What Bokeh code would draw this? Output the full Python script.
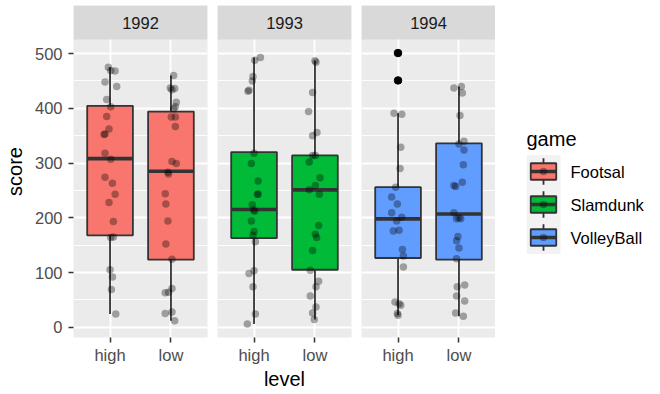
import numpy as np
from bokeh.plotting import figure
from bokeh.layouts import row
from bokeh.models import (FixedTicker, BoxAnnotation, Label, Range1d, FactorRange,
                          ColumnDataSource)
from bokeh.core.properties import value
from bokeh.embed import file_html
from bokeh.resources import INLINE

# ---------------- data ----------------
years = ["1992", "1993", "1994"]
levels = ["high", "low"]
games = ["Footsal", "Slamdunk", "VolleyBall"]
fills = ["#F8766D", "#00BA38", "#619CFF"]
legend_title = "game"

# box statistics per year, for [high, low]
whisk_lo = [[24, 12], [6, 14], [22, 20]]
box_q1 = [[168, 123.5], [163, 105], [126.5, 123.5]]
box_med = [[308, 285], [215, 251], [198, 207]]
box_q3 = [[404.5, 394], [320, 314], [256, 336]]
whisk_hi = [[475, 460], [493, 487], [391, 440]]
outlier_level = [[], [], ["high", "high"]]
outlier_score = [[], [], [501, 451]]

# jittered observations (score, horizontal jitter offset)
score_1992_high = [475, 469, 468, 448, 440, 416, 403, 385, 362, 353, 352, 318, 307, 274, 263, 243,
                   228, 193, 164, 165, 105, 92, 69, 24]
jit_1992_high = [-0.028, 0.011, 0.083, -0.083, 0.11, -0.055, 0.011, -0.055, -0.017, -0.083, -0.099,
                 -0.083, 0.011, -0.083, 0.039, 0.083, -0.017, 0.055, 0.011, 0.055, 0, 0.039, 0.022, 0.094]
score_1992_low = [460, 437, 436, 434, 411, 403, 399, 384, 384, 367, 303, 299, 283, 280, 244, 225,
                  194, 152, 124, 71, 63, 64, 28, 25, 12]
jit_1992_low = [0.044, -0.011, 0.061, 0.017, 0.088, 0.072, 0.044, 0.006, 0.072, 0.072, 0.017, 0.088,
                -0.05, -0.039, -0.094, -0.083, -0.05, -0.083, 0.017, 0.017, -0.094, -0.039, 0.017,
                -0.094, 0.061]
score_1993_high = [488, 493, 458, 450, 433, 431, 318, 299, 267, 243, 243, 224, 214, 212, 194, 175,
                   168, 156, 98, 103, 74, 24, 6]
jit_1993_high = [0.011, 0.105, -0.017, -0.028, -0.083, -0.099, 0, -0.044, 0.066, 0.055, 0.066, -0.028,
                 -0.006, 0.011, -0.044, 0, -0.017, 0.022, -0.083, 0, -0.017, 0.022, -0.11]
score_1993_low = [487, 484, 429, 394, 350, 356, 314, 314, 302, 273, 259, 251, 243, 186, 170, 164,
                  140, 104, 84, 74, 57, 37, 26, 14]
jit_1993_low = [0, 0.017, -0.039, -0.105, -0.039, 0.033, -0.039, 0.006, -0.094, 0.083, 0.006, -0.094,
                0.072, 0.061, 0.006, 0.028, -0.039, -0.077, 0.061, 0.017, -0.077, 0.017, -0.039, -0.011]
score_1994_high = [501, 451, 391, 389, 329, 290, 256, 238, 225, 209, 201, 194, 176, 177, 142, 130,
                   110, 46, 43, 40, 25, 22]
jit_1994_high = [-0.011, 0, -0.066, 0.061, 0.044, 0.033, -0.039, -0.105, -0.011, -0.105, 0.061,
                 -0.022, -0.077, 0.017, 0.072, 0.088, 0.088, -0.05, 0.017, 0.044, -0.011, 0]
score_1994_low = [437, 440, 428, 387, 335, 340, 324, 297, 265, 259, 257, 209, 200, 198, 198, 166,
                  158, 145, 125, 74, 77, 57, 48, 26, 20]
jit_1994_low = [-0.083, 0.039, 0.055, 0.017, 0, 0.083, 0.083, 0.072, 0.055, -0.083, -0.055, -0.083,
                0, -0.039, 0.028, -0.017, -0.039, 0, -0.039, -0.028, 0.094, -0.039, 0.094, -0.055, 0.072]

scores = {"1992": [score_1992_high, score_1992_low],
          "1993": [score_1993_high, score_1993_low],
          "1994": [score_1994_high, score_1994_low]}
jitters = {"1992": [jit_1992_high, jit_1992_low],
           "1993": [jit_1993_high, jit_1993_low],
           "1994": [jit_1994_high, jit_1994_low]}

y_ticks = [0, 100, 200, 300, 400, 500]
y_minor = [50, 150, 250, 350, 450]

# ---------------- style / layout ----------------
FONT = "Liberation Sans"
SMALL = "16.5px"
BIG = "20px"
PANEL_W = 134
GAP = 10
LEFT = 73
TOP = 5
STRIP_PX = 34
DATA_PX = 298
FRAME_H = STRIP_PX + DATA_PX
BOTTOM = 50
BOX_W = 0.75
EDGE = "#333333"
KEY_PX = 33
KEY_W = 34
LEG_W = 118
LABEL_GAP = 10

all_vals = sum([v for pair in scores.values() for v in pair], []) + sum(outlier_score, [])
vmin, vmax = min(all_vals), max(all_vals)
pad = 0.05 * (vmax - vmin)
y0, y1 = vmin - pad, vmax + pad
y_top = y1 + (y1 - y0) * STRIP_PX / DATA_PX
x0, x1 = 1 - 0.6, len(levels) + 0.6
pos = {lv: i + 1 for i, lv in enumerate(levels)}


def style_axis(ax):
    ax.axis_line_color = None
    ax.major_tick_out = 5
    ax.major_tick_in = 0
    ax.minor_tick_out = 0
    ax.minor_tick_in = 0
    ax.minor_tick_line_color = None
    ax.major_tick_line_color = EDGE
    ax.major_tick_line_width = 1.5
    ax.major_label_text_font = FONT
    ax.major_label_text_font_size = SMALL
    ax.major_label_text_color = "#4D4D4D"
    ax.axis_label_text_font = FONT
    ax.axis_label_text_font_size = BIG
    ax.axis_label_text_font_style = "normal"
    ax.axis_label_text_color = "#000000"


panels = []
for i, yr in enumerate(years):
    first = i == 0
    p = figure(frame_width=PANEL_W, frame_height=FRAME_H,
               x_range=Range1d(x0, x1), y_range=Range1d(y0, y_top),
               output_backend="svg", toolbar_location=None,
               min_border_left=LEFT if first else 0,
               min_border_right=GAP if i < len(years) - 1 else 0,
               min_border_top=TOP, min_border_bottom=BOTTOM)
    p.background_fill_color = "#EBEBEB"
    p.border_fill_color = "white"
    p.outline_line_color = None

    p.xaxis.ticker = FixedTicker(ticks=[pos[lv] for lv in levels])
    p.xaxis.major_label_overrides = {pos[lv]: lv for lv in levels}
    style_axis(p.xaxis[0])
    p.xaxis.major_label_standoff = 3
    if i == 1:
        p.xaxis.axis_label = "level"
        p.xaxis.axis_label_standoff = 1

    p.yaxis.ticker = FixedTicker(ticks=y_ticks, minor_ticks=y_minor)
    style_axis(p.yaxis[0])
    p.yaxis.major_label_standoff = 6
    if first:
        p.yaxis.axis_label = "score"
        p.yaxis.axis_label_standoff = 6
    else:
        p.yaxis.visible = False

    p.xgrid.ticker = FixedTicker(ticks=[pos[lv] for lv in levels])
    p.xgrid.grid_line_color = "white"
    p.xgrid.grid_line_width = 1.8
    p.ygrid.ticker = FixedTicker(ticks=y_ticks, minor_ticks=y_minor)
    p.ygrid.grid_line_color = "white"
    p.ygrid.grid_line_width = 1.8
    p.ygrid.minor_grid_line_color = "white"
    p.ygrid.minor_grid_line_width = 0.9

    xs = np.array([pos[lv] for lv in levels], dtype=float)
    src = ColumnDataSource(dict(x=xs, left=xs - BOX_W / 2, right=xs + BOX_W / 2,
                                lo=whisk_lo[i], q1=box_q1[i], med=box_med[i],
                                q3=box_q3[i], hi=whisk_hi[i]))
    p.segment(x0="x", y0="q3", x1="x", y1="hi", source=src, line_color=EDGE, line_width=1.8)
    p.segment(x0="x", y0="lo", x1="x", y1="q1", source=src, line_color=EDGE, line_width=1.8)
    p.quad(left="left", right="right", bottom="q1", top="q3", source=src,
           fill_color=fills[i], line_color=EDGE, line_width=1.8)
    p.segment(x0="left", y0="med", x1="right", y1="med", source=src,
              line_color=EDGE, line_width=3.6)
    if outlier_score[i]:
        p.scatter(x=[pos[lv] for lv in outlier_level[i]], y=outlier_score[i], size=7.5,
                  fill_color="black", line_color="black")
    for j, lv in enumerate(levels):
        p.scatter(x=pos[lv] + np.array(jitters[yr][j]), y=scores[yr][j], size=7.5,
                  fill_color="black", fill_alpha=0.33, line_color=None)

    # facet strip
    p.add_layout(BoxAnnotation(bottom=y1, fill_color="#D9D9D9", fill_alpha=1.0,
                               line_color=None))
    p.add_layout(Label(x=(x0 + x1) / 2, y=(y1 + y_top) / 2, text=yr, text_align="center",
                       text_baseline="middle", text_font=FONT, text_font_size=SMALL,
                       text_color="#1A1A1A"))
    panels.append(p)

# ---------------- legend (own figure, same frame height as the panels) ----------------
# x unit = one key width; y = one categorical row per key (title row + one empty row on top)
leg_rows = list(reversed(games)) + [legend_title, " "]
leg_pad = (FRAME_H / KEY_PX - len(leg_rows)) / 2
lg = figure(frame_width=LEG_W, frame_height=FRAME_H, x_range=Range1d(0, LEG_W / KEY_W),
            y_range=FactorRange(factors=leg_rows, range_padding=leg_pad,
                                range_padding_units="absolute"),
            output_backend="svg", toolbar_location=None,
            min_border_left=31, min_border_right=0, min_border_top=TOP,
            min_border_bottom=BOTTOM)
lg.background_fill_color = "white"
lg.border_fill_color = "white"
lg.outline_line_color = None
lg.xaxis.visible = False
lg.yaxis.visible = False
lg.xgrid.visible = False
lg.ygrid.visible = False

kx = 0.5
lsrc = ColumnDataSource(dict(y=games, fill=fills))
lg.rect(x=kx, y="y", width=1.0, height=1.0, source=lsrc, fill_color="#F2F2F2", line_color=None)
lg.rect(x=kx, y="y", width=1.8, width_units="screen", height=0.8, source=lsrc,
        fill_color=EDGE, line_color=None)
lg.rect(x=kx, y="y", width=BOX_W, height=0.5, source=lsrc, fill_color="fill",
        line_color=EDGE, line_width=1.8)
lg.rect(x=kx, y="y", width=BOX_W, height=3.6, height_units="screen", source=lsrc,
        fill_color=EDGE, line_color=None)
lg.scatter(x=kx, y="y", size=7.5, source=lsrc, fill_color="black", fill_alpha=0.33,
           line_color=None)
lg.text(x=1 + LABEL_GAP / KEY_W, y="y", text="y", source=lsrc, text_align="left",
        text_baseline="middle", text_font=value(FONT), text_font_size=value(SMALL),
        text_color="#000000")
lg.text(x=[0], y=[legend_title], text=[legend_title], text_align="left",
        text_baseline="middle", text_font=value(FONT), text_font_size=value(BIG),
        text_color="#000000")

layout = row(*panels, lg)
open("out.html", "w").write(file_html(layout, INLINE, title="score by level"))
